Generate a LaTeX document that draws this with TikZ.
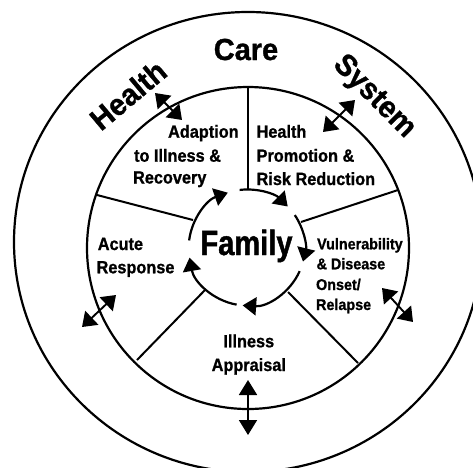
\documentclass[tikz,border=0pt]{standalone}
\usepackage{fontspec}
\setmainfont{Liberation Sans}
\newfontfamily\labfont[FakeStretch=0.92,FakeBold=1]{Liberation Sans}
\newfontfamily\famfont[FakeStretch=0.83,FakeBold=1.2]{Liberation Sans}
\newfontfamily\bigfont[FakeStretch=0.95,FakeBold=1]{Liberation Sans}
\usetikzlibrary{arrows.meta,calc}
\begin{document}
\begin{tikzpicture}[x=1pt,y=1pt,line width=2.2pt,
  lab/.style={font=\labfont\bfseries\fontsize{17.7}{20}\selectfont, inner sep=0pt, anchor=base west},
  slab/.style={font=\labfont\bfseries\fontsize{15.6}{18}\selectfont, inner sep=0pt, anchor=base west},
  big/.style={font=\bigfont\bfseries\fontsize{30.5}{34}\selectfont, inner sep=0pt},
  spoke/.style={line width=2pt},
  dbl/.style={line width=1.9pt, {Triangle[length=13.5pt,width=19pt]}-{Triangle[length=13.5pt,width=19pt]}},
  vdbl/.style={line width=1.9pt, {Triangle[length=15pt,width=18pt]}-{Triangle[length=15pt,width=18pt]}},
  famarc/.style={line width=2.2pt, -{Triangle[length=13.5pt,width=18pt]}}]
\useasboundingbox (0,0) rectangle (473,-467);
\coordinate (O) at (248,-242);
\coordinate (I) at (248,-248);
\coordinate (F) at (246.7,-247.5);
% circles
\draw (O) ellipse [x radius=234, y radius=230];
\draw (I) circle [radius=161];
% spokes
\coordinate (s1a) at (248,-87);  \coordinate (s1b) at (248,-190);
\coordinate (s2a) at (301,-222); \coordinate (s2b) at (398,-190);
\coordinate (s3a) at (288,-292); \coordinate (s3b) at (358,-363);
\coordinate (s4a) at (205,-290); \coordinate (s4b) at (137,-360);
\coordinate (s5a) at (193,-220); \coordinate (s5b) at (97,-195);
\draw[spoke] (s1a) -- (s1b);
\draw[spoke] (s2a) -- (s2b);
\draw[spoke] (s3a) -- (s3b);
\draw[spoke] (s4a) -- (s4b);
\draw[spoke] (s5a) -- (s5b);
% family arcs
\draw[famarc] ($(F)+(97:58)$) arc[start angle=97, end angle=45, radius=58];
\draw[famarc] ($(F)+(34:58)$) arc[start angle=34, end angle=-14, radius=58];
\draw[famarc] ($(F)+(-24:58)$) arc[start angle=-24, end angle=-94, radius=58];
\draw[famarc] ($(F)+(-100:58)$) arc[start angle=-100, end angle=-170, radius=58];
\draw[famarc] ($(F)+(173:58)$) arc[start angle=173, end angle=109, radius=58];
% double arrows
\coordinate (a1a) at (155,-93);  \coordinate (a1b) at (182,-120);
\coordinate (a2a) at (323,-132); \coordinate (a2b) at (355,-100);
\coordinate (a3a) at (382,-288); \coordinate (a3b) at (413,-322);
\coordinate (a4a) at (248,-380); \coordinate (a4b) at (248,-435);
\coordinate (a5a) at (82,-327);  \coordinate (a5b) at (116,-295);
\draw[dbl] (a1a) -- (a1b);
\draw[dbl] (a2a) -- (a2b);
\draw[dbl] (a3a) -- (a3b);
\draw[vdbl] (a4a) -- (a4b);
\draw[dbl] (a5a) -- (a5b);
% outer texts
\node[big, anchor=base] (care) at (246,-60) {Care};
\node[big, rotate=40] (health) at (128,-95) {Health};
\node[big, rotate=-45] (system) at (374,-97) {System};
% family
\node[font=\famfont\bfseries\fontsize{35}{40}\selectfont, inner sep=0pt, anchor=base] (family) at (246.5,-255) {Family};
% segment labels
\node[lab] (t1a) at (167,-137.7) {Adaption};
\node[lab] (t1b) at (133,-161.7) {to Illness \&};
\node[lab] (t1c) at (132,-183.5) {Recovery};
\node[lab] (t2a) at (255.5,-137.7) {Health};
\node[lab] (t2b) at (255.5,-161.7) {Promotion \&};
\node[lab] (t2c) at (255.5,-185) {Risk Reduction};
\node[lab] (t5a) at (96.7,-250) {Acute};
\node[lab] (t5b) at (95.5,-273.3) {Response};
\node[slab] (t3a) at (316,-249.3) {Vulnerability};
\node[slab] (t3b) at (315.5,-269.3) {\& Disease};
\node[slab] (t3c) at (315,-290) {Onset/};
\node[slab] (t3d) at (315,-310) {Relapse};
\node[lab, anchor=base] (t4a) at (248.8,-347.3) {Illness};
\node[lab, anchor=base] (t4b) at (248.8,-371) {Appraisal};
\end{tikzpicture}
\end{document}
